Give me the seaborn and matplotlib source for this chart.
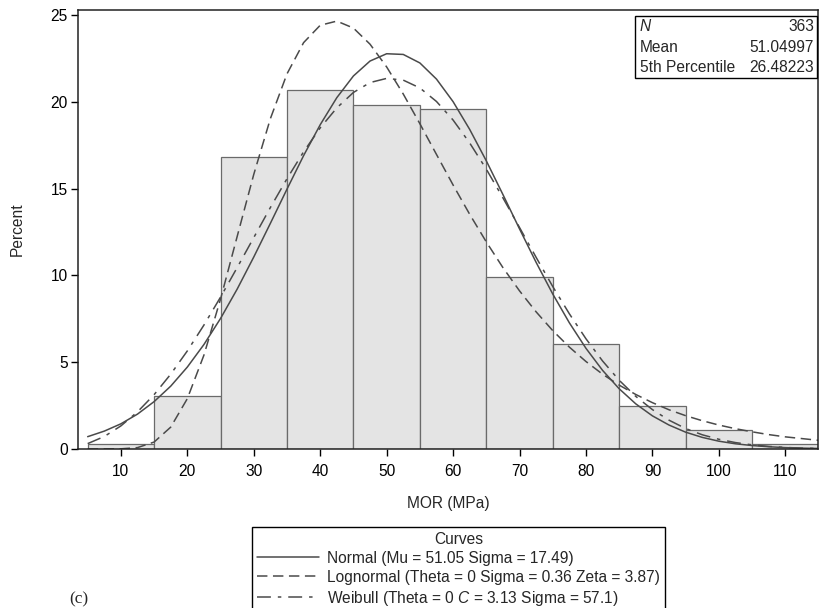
import matplotlib
matplotlib.use("Agg")
import matplotlib.pyplot as plt
from matplotlib.patches import Rectangle
import seaborn as sns

# ---------------- data ----------------
bin_edges = [5, 15, 25, 35, 45, 55, 65, 75, 85, 95, 105, 115]
bin_mid = [10, 20, 30, 40, 50, 60, 70, 80, 90, 100, 110]
bin_pct = [0.28, 3.03, 16.80, 20.66, 19.83, 19.56, 9.92, 6.06, 2.48, 1.10, 0.28]

curve_x = [5, 7.5, 10, 12.5, 15, 17.5, 20, 22.5, 25, 27.5, 30, 32.5, 35, 37.5,
           40, 42.5, 45, 47.5, 50, 52.5, 55, 57.5, 60, 62.5, 65, 67.5, 70, 72.5,
           75, 77.5, 80, 82.5, 85, 87.5, 90, 92.5, 95, 97.5, 100, 102.5, 105,
           107.5, 110, 112.5, 115]
normal_pct = [0.71, 1.03, 1.45, 2.01, 2.73, 3.62, 4.72, 6.02, 7.52, 9.21, 11.06,
              13.00, 14.97, 16.90, 18.68, 20.24, 21.49, 22.35, 22.77, 22.73, 22.24,
              21.31, 20.01, 18.41, 16.60, 14.66, 12.68, 10.75, 8.93, 7.27, 5.80,
              4.53, 3.47, 2.60, 1.91, 1.38, 0.97, 0.67, 0.45, 0.30, 0.20, 0.13,
              0.08, 0.05, 0.03]
lognormal_pct = [0.00, 0.00, 0.01, 0.08, 0.40, 1.26, 2.90, 5.41, 8.64, 12.24, 15.82,
                 19.03, 21.61, 23.41, 24.41, 24.65, 24.25, 23.32, 22.01, 20.45, 18.74,
                 16.97, 15.21, 13.52, 11.93, 10.45, 9.11, 7.90, 6.82, 5.87, 5.04,
                 4.31, 3.68, 3.14, 2.67, 2.26, 1.92, 1.63, 1.38, 1.17, 0.99, 0.83,
                 0.70, 0.60, 0.50]
weibull_pct = [0.31, 0.72, 1.33, 2.14, 3.13, 4.31, 5.65, 7.14, 8.75, 10.45, 12.18,
               13.91, 15.57, 17.12, 18.50, 19.65, 20.54, 21.11, 21.35, 21.25, 20.80,
               20.02, 18.95, 17.63, 16.12, 14.47, 12.76, 11.04, 9.36, 7.79, 6.35,
               5.07, 3.96, 3.03, 2.27, 1.66, 1.18, 0.82, 0.56, 0.37, 0.24, 0.15,
               0.09, 0.05, 0.03]

curve_labels = ["Normal (Mu = 51.05 Sigma = 17.49)",
                "Lognormal (Theta = 0 Sigma = 0.36 Zeta = 3.87)",
                "Weibull (Theta = 0 $C$ = 3.13 Sigma = 57.1)"]
stat_names = ["N", "Mean", "5th Percentile"]
stat_values = ["363", "51.04997", "26.48223"]
x_ticks = [10, 20, 30, 40, 50, 60, 70, 80, 90, 100, 110]
y_ticks = [0, 5, 10, 15, 20, 25]

# ---------------- style ----------------
sns.set_style("ticks")
plt.rcParams["font.family"] = ["Liberation Sans", "DejaVu Sans"]
plt.rcParams["mathtext.fontset"] = "custom"
plt.rcParams["mathtext.it"] = "Liberation Sans:italic"
plt.rcParams["mathtext.rm"] = "Liberation Sans"
plt.rcParams["lines.scale_dashes"] = False

FS = 11.2
W, H = 820, 608
LINE_COLOR = "#4a4a4a"


def fx(px):
    return px / W


def fy(py):
    return 1 - py / H


fig = plt.figure(figsize=(8.2, 6.08), dpi=100)
ax_l, ax_r, ax_t, ax_b = 77.7, 818.5, 10, 449
ax = fig.add_axes([fx(ax_l), fy(ax_b), (ax_r - ax_l) / W, (ax_b - ax_t) / H])

sns.histplot(x=bin_mid, weights=bin_pct, bins=bin_edges, ax=ax,
             color="#e4e4e4", edgecolor="#6a6a6a", linewidth=0.9, alpha=1.0)

sns.lineplot(x=curve_x, y=normal_pct, ax=ax, color=LINE_COLOR, linewidth=1.1,
             linestyle="-")
sns.lineplot(x=curve_x, y=lognormal_pct, ax=ax, color=LINE_COLOR, linewidth=1.1,
             linestyle=(0, (7.5, 4.0)))
sns.lineplot(x=curve_x, y=weibull_pct, ax=ax, color=LINE_COLOR, linewidth=1.1,
             linestyle=(0, (10, 5, 2.5, 5)))

ax.set_xlim(3.5, 115)
ax.set_ylim(0, 25.29)
ax.set_xticks(x_ticks)
ax.set_yticks(y_ticks)
ax.set_xlabel("MOR (MPa)", fontsize=FS, labelpad=12)
ax.set_ylabel("Percent", fontsize=FS, labelpad=19)
ax.tick_params(axis="both", direction="out", length=5, width=1.0, colors="black",
               labelsize=FS)
ax.tick_params(axis="x", pad=6)
ax.tick_params(axis="y", pad=2)
for s in ax.spines.values():
    s.set_visible(True)
    s.set_linewidth(1.1)
    s.set_color("#222222")

# ---------------- legend ----------------
handles = list(ax.lines[-3:])
leg = ax.legend(handles, curve_labels, title="Curves", loc="upper left",
                bbox_to_anchor=(fx(252), fy(527)), bbox_transform=fig.transFigure,
                fontsize=FS, title_fontsize=FS, frameon=True, fancybox=False,
                edgecolor="black", framealpha=1.0, borderpad=0.3,
                labelspacing=0.26, handlelength=4.0, handletextpad=0.55,
                borderaxespad=0)
leg.get_frame().set_linewidth(1.0)

# ---------------- stats inset ----------------
box_l, box_r, box_t, box_b = 635, 817, 15.7, 77.7
fig.add_artist(Rectangle((fx(box_l), fy(box_b)), (box_r - box_l) / W,
                         (box_b - box_t) / H, transform=fig.transFigure,
                         facecolor="white", edgecolor="black", linewidth=1.0,
                         zorder=5))
row_y = [26.7, 47.5, 68.0]
for name, val, py in zip(stat_names, stat_values, row_y):
    fig.text(fx(640), fy(py), name, fontsize=FS, va="center", ha="left",
             fontstyle="italic" if name == "N" else "normal", zorder=6)
    fig.text(fx(814), fy(py), val, fontsize=FS, va="center", ha="right", zorder=6)

fig.text(fx(69), fy(599), "(c)", fontsize=12.5, va="center", ha="left",
         family=["Liberation Serif", "DejaVu Serif"])

fig.savefig("out.png", dpi=100)
